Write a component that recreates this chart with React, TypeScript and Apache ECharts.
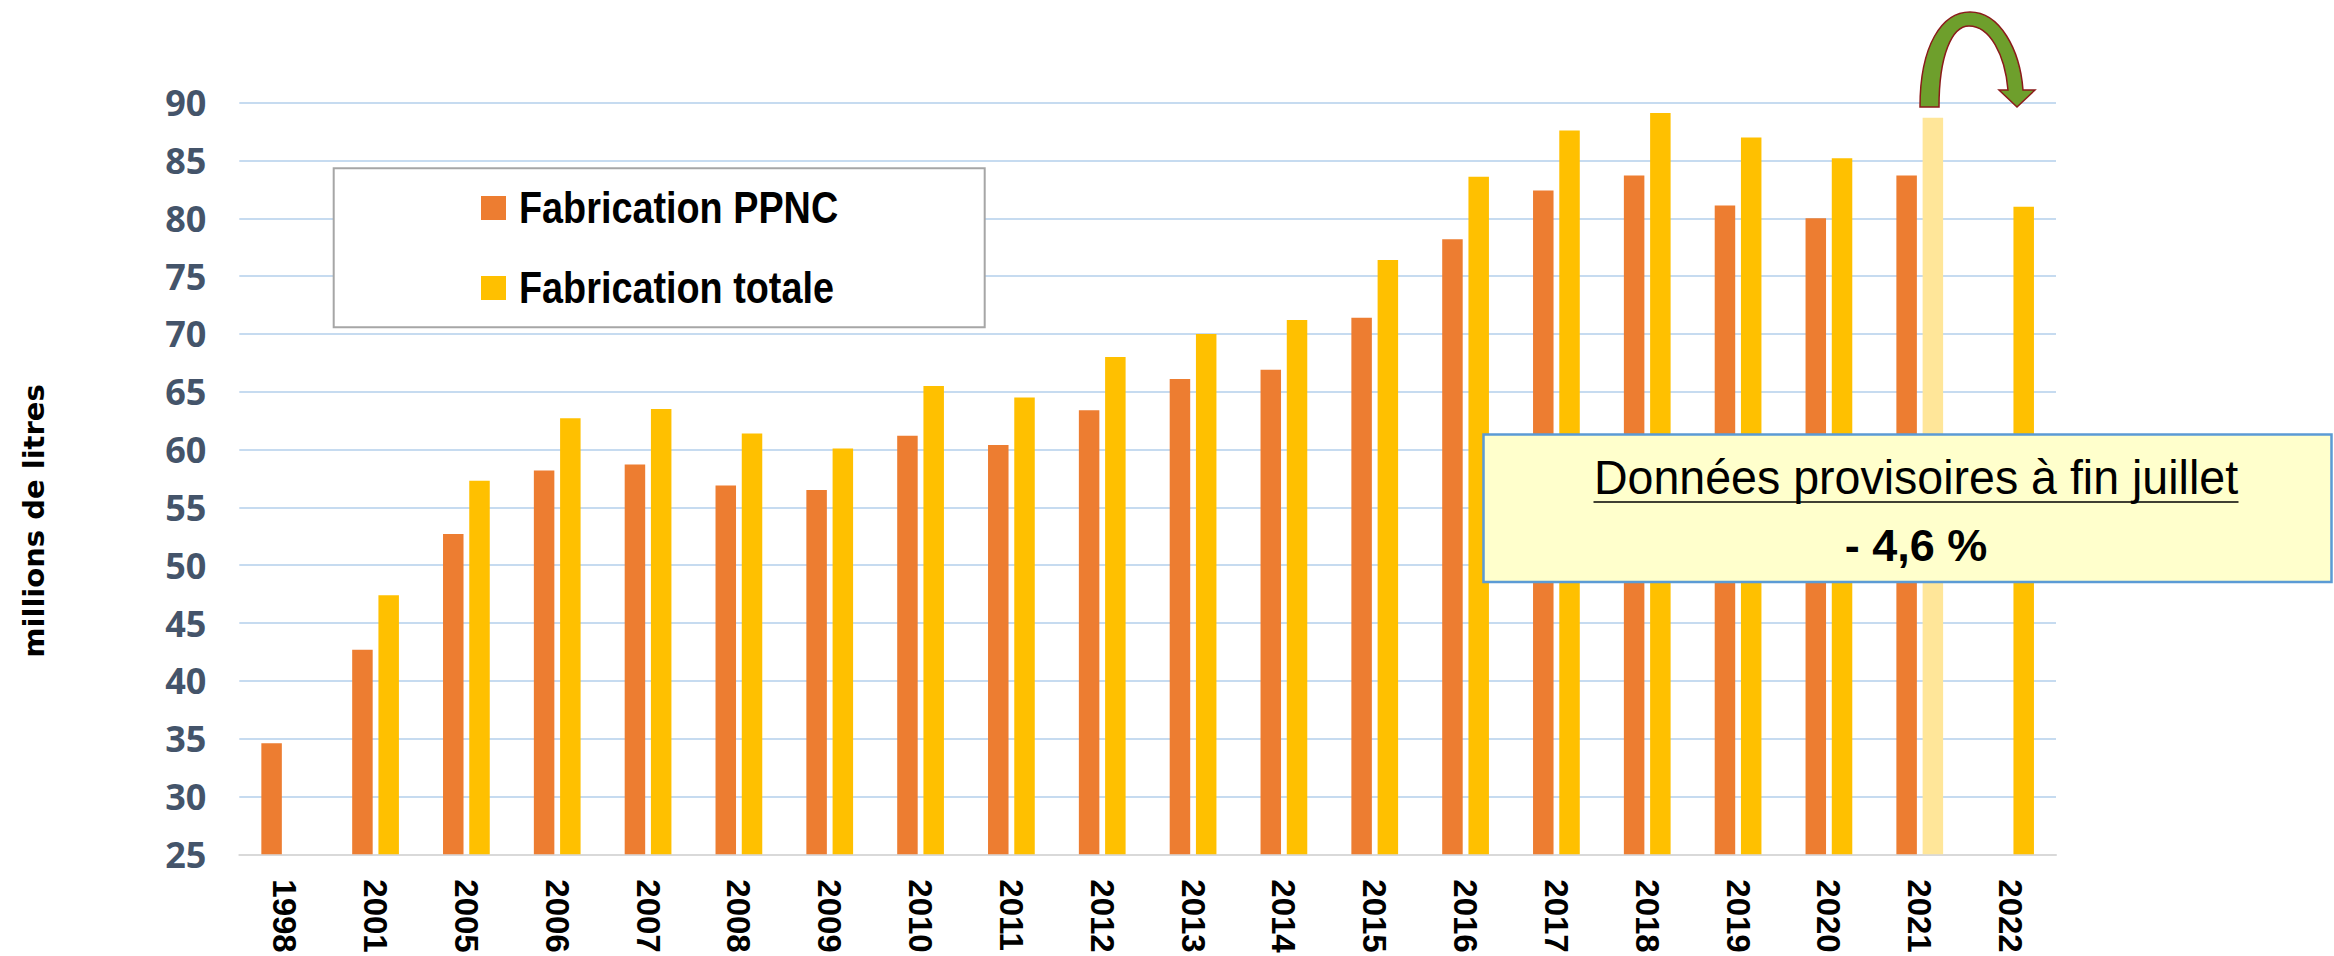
import React, { useEffect, useRef } from "react";
import * as echarts from "echarts";

const years = ["1998", "2001", "2005", "2006", "2007", "2008", "2009", "2010", "2011", "2012", "2013", "2014", "2015", "2016", "2017", "2018", "2019", "2020", "2021", "2022"];
const ppnc = [34.6, 42.7, 52.7, 58.2, 58.7, 56.9, 56.5, 61.2, 60.4, 63.4, 66.1, 66.9, 71.4, 78.2, 82.4, 83.7, 81.1, 80.0, 83.7, null];
const totale = [null, 47.4, 57.3, 62.7, 63.5, 61.4, 60.1, 65.5, 64.5, 68.0, 70.0, 71.2, 76.4, 83.6, 87.6, 89.1, 87.0, 85.2, 88.7, 81.0];
const highlightYear = "2021";
const seriesNames = ["Fabrication PPNC", "Fabrication totale"];
const seriesColors = ["#ED7D31", "#FFC000"];
const yTitle = "millions de litres";
const noteTitle = "Données provisoires à fin juillet";
const noteValue = "- 4,6 %";

const SANS = "'Liberation Sans', Arial, sans-serif";

const arrowPath =
  "M1920,107 C1920,45 1942,12 1970,12 C2000,12 2020,50 2023,90 L2035,90 L2017,107 L1999,90 L2008,90 C2005,55 1990,26 1969,26 C1952,26 1939,55 1939,107 Z";

let registered = false;

export default function App() {
  const ref = useRef<HTMLDivElement>(null);
  useEffect(() => {
    if (!registered) {
      echarts.graphic.registerShape("uarrow", echarts.graphic.extendPath(arrowPath, {}));
      registered = true;
    }
    const chart = echarts.init(ref.current!, null, { renderer: "svg" });
    const totalData = totale.map((v, i) =>
      years[i] === highlightYear ? { value: v, itemStyle: { color: "#FFE699" } } : v
    );
    const legendGraphics: any[] = [];
    seriesNames.forEach((name, i) => {
      const cy = 208 + i * 80;
      legendGraphics.push({
        type: "rect",
        shape: { x: 481, y: cy - 12, width: 25, height: 24 },
        style: { fill: seriesColors[i] },
        z: 5,
      });
      legendGraphics.push({
        type: "text",
        x: 519,
        y: cy - 1,
        scaleX: 0.84,
        style: {
          text: name,
          fontFamily: SANS,
          fontWeight: "bold",
          fontSize: 45,
          fill: "#000",
          align: "left",
          verticalAlign: "middle",
        },
        z: 5,
      });
    });
    chart.setOption({
      animation: false,
      backgroundColor: "#ffffff",
      grid: {
        left: 239.3,
        right: 278,
        top: 102.7,
        bottom: 101.7,
        containLabel: false,
        outerBoundsMode: "none",
      },
      xAxis: {
        type: "category",
        data: years,
        axisTick: { show: false },
        axisLine: { lineStyle: { color: "#D9D9D9", width: 2 } },
        axisLabel: {
          rotate: -90,
          margin: 25,
          interval: 0,
          fontFamily: SANS,
          fontWeight: "bold",
          fontSize: 33,
          color: "#000",
        },
      },
      yAxis: {
        type: "value",
        min: 25,
        max: 90,
        interval: 5,
        axisLine: { show: false },
        axisTick: { show: false },
        splitLine: { lineStyle: { color: "#C6DBF0", width: 2 } },
        axisLabel: {
          margin: 33,
          fontFamily: "'Open Sans', sans-serif",
          fontWeight: "bold",
          fontSize: 36,
          color: "#44546A",
        },
      },
      series: [
        {
          name: seriesNames[0],
          type: "bar",
          data: ppnc,
          barWidth: 20.5,
          barGap: "28%",
          itemStyle: { color: seriesColors[0] },
        },
        {
          name: seriesNames[1],
          type: "bar",
          data: totalData,
          barWidth: 20.5,
          barGap: "28%",
          itemStyle: { color: seriesColors[1] },
        },
      ],
      graphic: [
        {
          type: "rect",
          shape: { x: 333.7, y: 168.3, width: 651, height: 159 },
          style: { fill: "#ffffff", stroke: "#A6A6A6", lineWidth: 2 },
          z: 4,
        },
        ...legendGraphics,
        {
          type: "text",
          x: 34,
          y: 521,
          rotation: Math.PI / 2,
          style: {
            text: yTitle,
            fontFamily: "'DejaVu Sans', sans-serif",
            fontWeight: "bold",
            fontSize: 29,
            fill: "#000",
            align: "center",
            verticalAlign: "middle",
          },
        },
        {
          type: "rect",
          shape: { x: 1483.5, y: 434.5, width: 848, height: 147.5 },
          style: { fill: "#FFFFCC", stroke: "#5B9BD5", lineWidth: 2.5 },
          z: 10,
        },
        {
          type: "text",
          x: 1916,
          y: 477,
          scaleX: 0.97,
          style: {
            text: noteTitle,
            fontFamily: SANS,
            fontSize: 48,
            fill: "#000",
            align: "center",
            verticalAlign: "middle",
          },
          z: 11,
        },
        {
          type: "line",
          shape: { x1: 1593.5, y1: 502, x2: 2238.5, y2: 502 },
          style: { stroke: "#000", lineWidth: 1.6 },
          z: 11,
        },
        {
          type: "text",
          x: 1916,
          y: 545,
          style: {
            text: noteValue,
            fontFamily: SANS,
            fontWeight: "bold",
            fontSize: 45,
            fill: "#000",
            align: "center",
            verticalAlign: "middle",
          },
          z: 11,
        },
        {
          type: "uarrow",
          x: 0,
          y: 0,
          style: { fill: "#6E9F2C", stroke: "#8B1A1A", lineWidth: 1.5 },
          z: 12,
        },
      ],
    });
    return () => chart.dispose();
  }, []);
  return (
    <div
      ref={ref}
      style={{ position: "absolute", left: 0, top: 0, width: 2334, height: 956 }}
    />
  );
}
